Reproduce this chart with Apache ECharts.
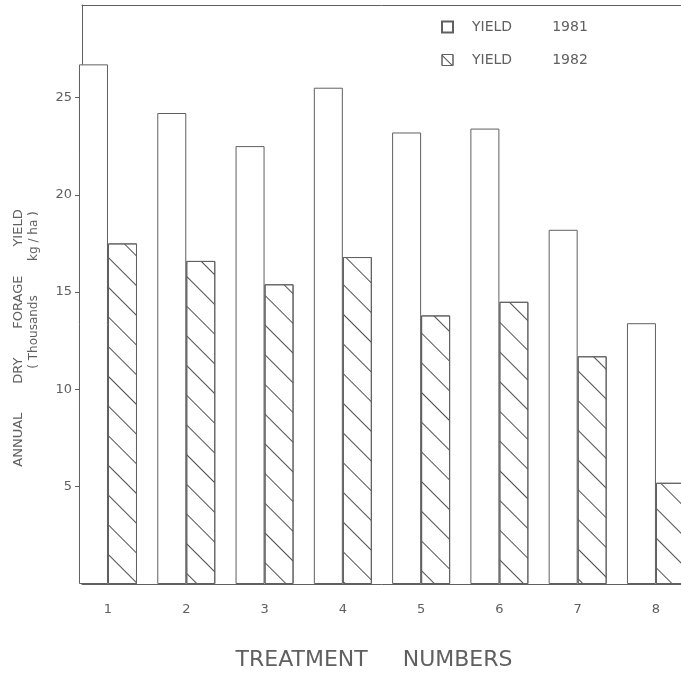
<!DOCTYPE html>
<html><head><meta charset="utf-8">
<script src="https://cdn.jsdelivr.net/npm/echarts@6/dist/echarts.min.js"></script>
<style>html,body{margin:0;padding:0;background:#fff}#c{width:681px;height:674px}</style>
</head><body><div id="c"></div>
<script>
// ---- data ----
const treatments = [1, 2, 3, 4, 5, 6, 7, 8];
const yield1981 = [26.7, 24.2, 22.5, 25.5, 23.2, 23.4, 18.2, 13.4];
const yield1982 = [17.5, 16.6, 15.4, 16.8, 13.8, 14.5, 11.7, 5.2];
const yTicks = [5, 10, 15, 20, 25];
const seriesNames = ['YIELD         1981', 'YIELD         1982'];
const yTitle = 'ANNUAL       DRY       FORAGE       YIELD';
const yUnit = '( Thousands         kg / ha )';
const xTitle = 'TREATMENT     NUMBERS';

// ---- chart ----
const INK = '#606060';
const FONT = '"DejaVu Sans", sans-serif';
const hatch = (gap) => ({ symbol: 'rect', symbolSize: 1, color: '#505050', dashArrayX: [1, 0], dashArrayY: [1, gap], rotation: Math.PI / 4 });
const chart = echarts.init(document.getElementById('c'), null, { renderer: 'canvas' });
chart.setOption({
  backgroundColor: '#fff',
  animation: false,
  grid: { left: 82, top: 5, right: 0, bottom: 90, show: false },
  xAxis: [{
    type: 'value', min: 0.668, max: 8.32,
    axisLine: { show: true, onZero: false, lineStyle: { color: INK, width: 1 } },
    axisTick: { show: false },
    splitLine: { show: false },
    axisLabel: { customValues: treatments, margin: 19, color: INK, fontSize: 13, fontFamily: FONT }
  }, {
    type: 'value', min: 0.668, max: 8.32, position: 'top',
    axisLine: { show: true, onZero: false, lineStyle: { color: INK, width: 1 } },
    axisTick: { show: false }, axisLabel: { show: false }, splitLine: { show: false }
  }],
  yAxis: {
    type: 'value', min: 0, max: 29.75, interval: 5,
    axisLine: { show: true, lineStyle: { color: INK, width: 1 } },
    axisTick: { show: true, length: 7, customValues: yTicks, lineStyle: { color: INK } },
    axisLabel: { customValues: yTicks, margin: 10, color: INK, fontSize: 13, fontFamily: FONT },
    splitLine: { show: false }
  },
  legend: {
    orient: 'vertical', left: 436, top: 15, itemWidth: 11, itemHeight: 11, itemGap: 19,
    icon: 'rect',
    textStyle: { color: INK, fontSize: 14, fontFamily: FONT, padding: [0, 0, 0, 14] },
    data: [
      { name: seriesNames[0] },
      { name: seriesNames[1], itemStyle: { color: '#fff', borderColor: INK, borderWidth: 1, decal: hatch(7) } }
    ]
  },
  series: [
    {
      name: seriesNames[0], type: 'bar', clip: true,
      data: treatments.map((t, i) => [t, yield1981[i]]),
      barWidth: 29, barGap: '0%',
      itemStyle: { color: '#fff', borderColor: INK, borderWidth: 1 }
    },
    {
      name: seriesNames[1], type: 'bar', clip: true,
      data: treatments.map((t, i) => [t, yield1982[i]]),
      barWidth: 29, barGap: '0%',
      itemStyle: { color: '#fff', borderColor: INK, borderWidth: 1, decal: hatch(20) }
    }
  ],
  graphic: [
    { type: 'text', x: 19, y: 338, rotation: Math.PI / 2,
      style: { text: yTitle, fill: INK, font: '13px ' + FONT, align: 'center', verticalAlign: 'middle' } },
    { type: 'text', x: 34, y: 290, rotation: Math.PI / 2,
      style: { text: yUnit, fill: INK, font: '12px ' + FONT, align: 'center', verticalAlign: 'middle' } },
    { type: 'text', x: 374, y: 660,
      style: { text: xTitle, fill: INK, font: '22px ' + FONT, align: 'center', verticalAlign: 'middle' } }
  ]
});
</script>
</body></html>
